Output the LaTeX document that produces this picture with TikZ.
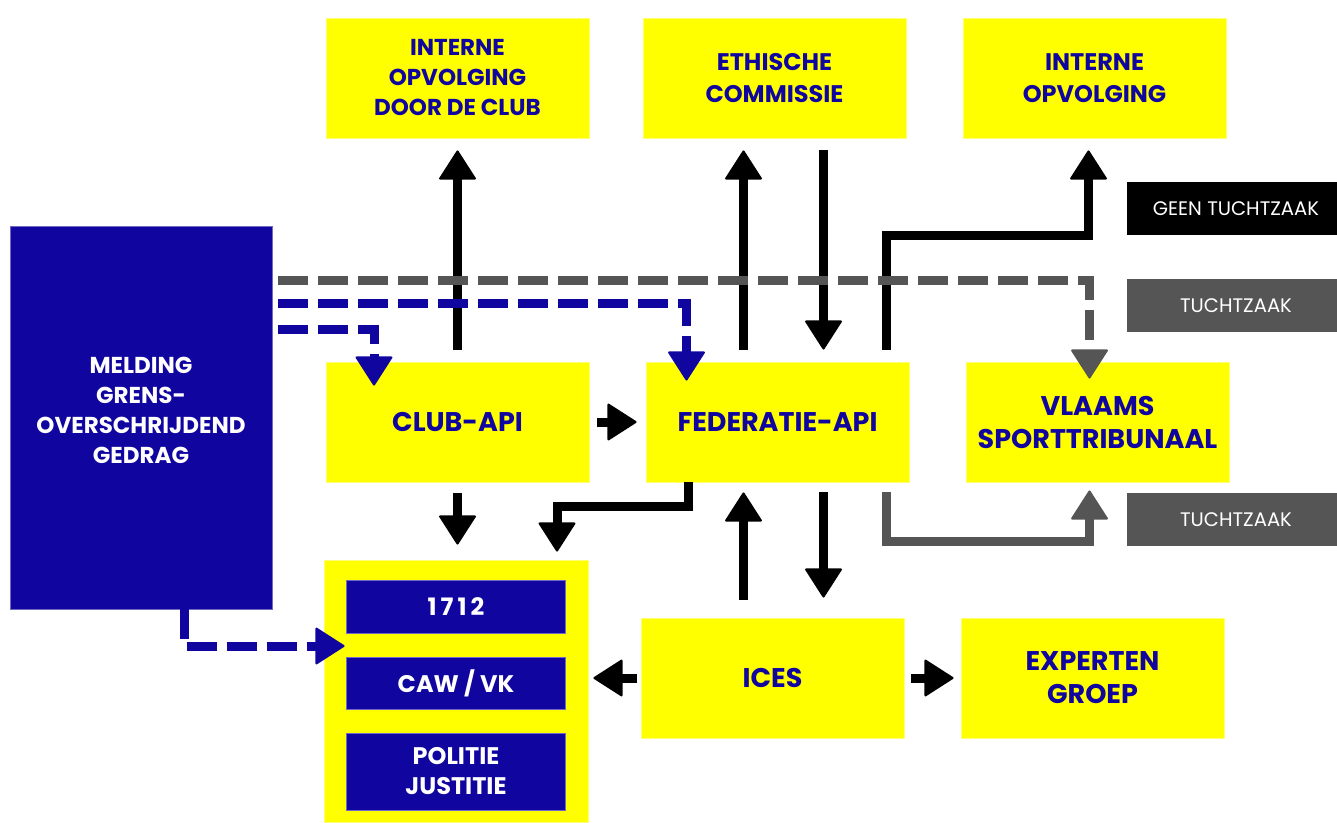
\documentclass[tikz,border=0pt]{standalone}
\usepackage{fontspec}
\setmainfont{Poppins}
\usetikzlibrary{arrows.meta}
\definecolor{geel}{HTML}{FFFF00}
\definecolor{blauw}{HTML}{10069F}
\definecolor{grijs}{HTML}{555555}
\tikzstyle{box} = [rectangle, 
minimum width=131.5pt, 
minimum height=60pt,
align=center, 
draw=geel!55!white, 
fill=geel, text=blauw,
font=\bfseries\fontsize{13.5pt}{16.5pt}\selectfont]
\tikzstyle{topbox} = [box, 
font=\bfseries\fontsize{11.5pt}{15pt}\selectfont]
\tikzstyle{container} = [rectangle, 
minimum width=132pt, 
minimum height=131pt, 
draw=geel!55!white, 
fill=geel]
\tikzstyle{inbox} = [rectangle, 
minimum width=109.5pt, 
align=center, 
draw=blauw!60!white, 
fill=blauw, text=white,
font=\bfseries\fontsize{12pt}{15pt}\selectfont]
\tikzstyle{meldbox} = [rectangle, 
minimum width=131pt, 
minimum height=191.5pt, 
align=center, 
draw=blauw!60!white, 
fill=blauw, text=white,
font=\bfseries\fontsize{11.5pt}{15pt}\selectfont]
\tikzstyle{tag} = [rectangle, 
minimum width=105pt, 
minimum height=26.5pt, 
text=white, 
font=\fontsize{9.8pt}{11pt}\selectfont]
\tikzstyle{arrow} = [line width=4.5pt,-{Triangle[length=15pt,width=19pt,line width=1pt,round]}]
\tikzstyle{dashline} = [arrow, dash pattern=on 15pt off 5pt]

\begin{document}
\begin{tikzpicture}[x=0.5pt, y=-0.5pt, node distance=160pt]
\useasboundingbox (0,0) rectangle (1337,823);

\node (club) [box] at (457.5,422) {CLUB-API};
\node (fed) [box, right of=club] {FEDERATIE-API};
\node (vst) [box, right of=fed] {VLAAMS\\SPORTTRIBUNAAL};
\node (opvclub) [topbox, above of=club, yshift=12pt] {INTERNE\\OPVOLGING\\DOOR DE CLUB};
\node (ethisch) [topbox, above of=fed, xshift=-1.5pt, yshift=12pt, font=\bfseries\fontsize{12pt}{16pt}\selectfont] {ETHISCHE\\COMMISSIE};
\node (opv) [topbox, above of=vst, xshift=-1.5pt, yshift=12pt, font=\bfseries\fontsize{12pt}{16pt}\selectfont] {INTERNE\\OPVOLGING};
\node (cont) [container, below of=club, xshift=-0.75pt, yshift=25.5pt] {};
\node (ices) [box, below of=fed, xshift=-2.5pt, yshift=32pt] {ICES};
\node (exp) [box, right of=ices] {EXPERTEN\\GROEP};
\node (melding) [meldbox] at (141,417.5) {MELDING\\GRENS-\\OVERSCHRIJDEND\\GEDRAG\\[-7.5pt]};

% binnen de gele kader
\node (n1712) [inbox, minimum height=26.5pt] at ([yshift=42.25pt]cont.center) {1\,7\,1\,2};
\node (caw) [inbox, minimum height=26pt] at ([yshift=4pt]cont.center) {CAW / VK};
\node (politie) [inbox, minimum height=38.5pt] at ([yshift=-40.25pt]cont.center) {POLITIE\\JUSTITIE};

% tuchtzaak labels
\node (geen) [tag, fill=black] at (1232,208.5) {\hspace{4pt}GEEN TUCHTZAAK};
\node (tz1) [tag, fill=grijs] at (1232,305.5) {\hspace{4pt}TUCHTZAAK};
\node (tz2) [tag, fill=grijs] at (1232,519.5) {\hspace{4pt}TUCHTZAAK};

\draw [arrow, shorten <=6pt, shorten >=6pt] (club) -- (opvclub);
\draw [arrow, shorten <=6pt, shorten >=6pt] ([xshift=-17pt]fed.north) -- ([xshift=-17pt]fed.north |- ethisch.south);
\draw [arrow, shorten <=6pt, shorten >=6pt] ([xshift=23pt]fed.north |- ethisch.south) -- ([xshift=23pt]fed.north);
\draw [arrow, shorten <=6pt, shorten >=6pt] ([xshift=54.5pt]fed.north) -- ++(0,-126) -| ([xshift=-3pt]opv.south);
\draw [arrow, shorten <=4pt, shorten >=4.5pt] (club) -- (fed);
\draw [arrow, shorten <=5.5pt, shorten >=7.5pt] (club.south) -- (club.south |- cont.north);
\draw [arrow, shorten >=4pt] ([xshift=-44.5pt]fed.south) -- ++(0,24) -| ([xshift=50.5pt]cont.north);
\draw [arrow, shorten <=9pt, shorten >=5pt] ([xshift=-17pt]fed.south |- ices.north) -- ([xshift=-17pt]fed.south);
\draw [arrow, shorten <=5pt, shorten >=10pt] ([xshift=23pt]fed.south) -- ([xshift=23pt]fed.south |- ices.north);
\draw [arrow, shorten <=2pt, shorten >=2.5pt] (ices.west) -- (ices.west -| cont.east);
\draw [arrow, shorten <=3.5pt, shorten >=3.5pt] (ices) -- (exp);
\draw [arrow, grijs, shorten <=5pt, shorten >=4pt] ([xshift=54.5pt]fed.south) -- ++(0,59) -| ([xshift=-4pt]vst.south);

% gestippelde meldingen
\draw [dashline, grijs, shorten <=3pt, shorten >=-8.5pt] ([yshift=68.25pt]melding.east) -| ([xshift=-4pt]vst.north);
\draw [dashline, blauw, shorten <=3pt, shorten >=-9.5pt] ([yshift=56.75pt]melding.east) -| ([xshift=-45.5pt]fed.north);
\draw [dashline, blauw, shorten <=3pt, shorten >=-12pt] ([yshift=43.75pt]melding.east) -| ([xshift=-41.75pt]club.north);
\draw [dashline, blauw, shorten >=-10.5pt] ([xshift=21.5pt]melding.south) |- ([yshift=22.5pt]cont.west);

\end{tikzpicture}
\end{document}
